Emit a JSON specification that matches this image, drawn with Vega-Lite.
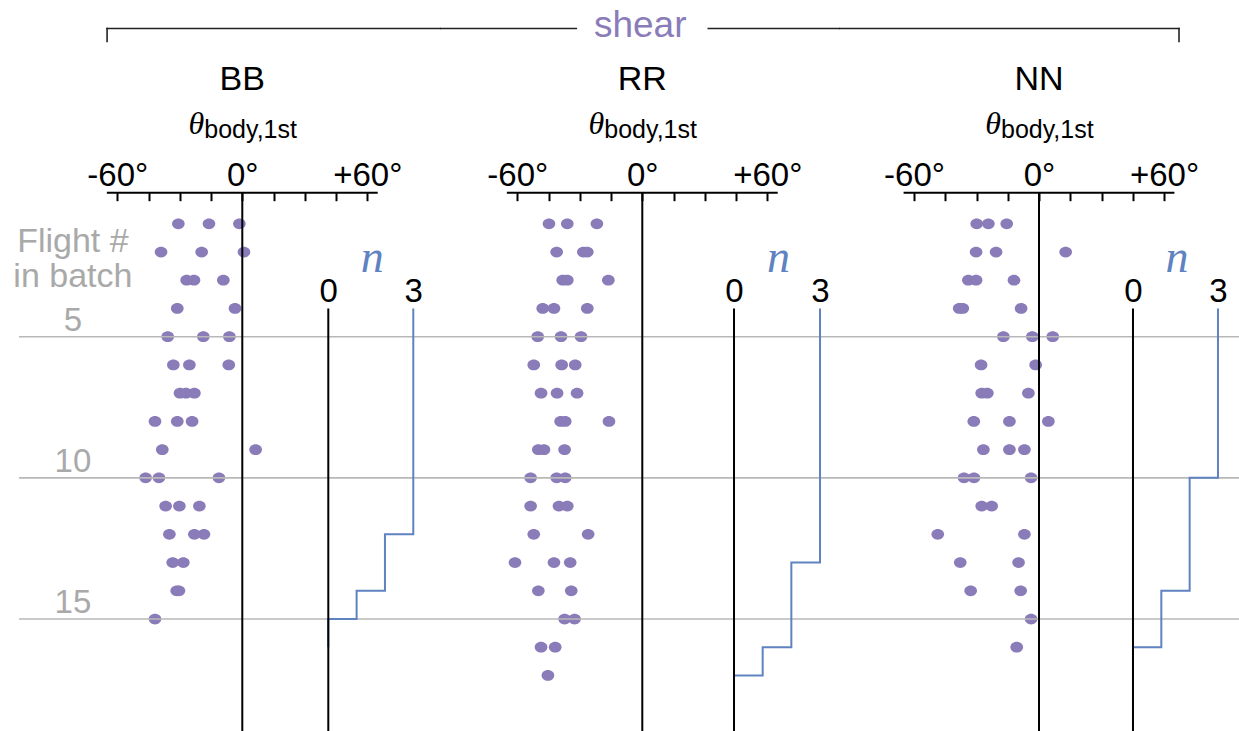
{
  "$schema": "https://vega.github.io/schema/vega-lite/v6.json",
  "padding": 0,
  "autosize": {"type": "pad"},
  "background": "white",
  "spacing": 0,
  "bounds": "flush",
  "config": {"view": {"stroke": null}, "font": "Liberation Sans", "text": {"font": "Liberation Sans"}},
  "datasets": {
    "dots": [
      {"panel": "BB", "flight": 1, "theta": -30.7}, {"panel": "BB", "flight": 1, "theta": -16.0}, {"panel": "BB", "flight": 1, "theta": -1.4},
      {"panel": "BB", "flight": 2, "theta": -39.0}, {"panel": "BB", "flight": 2, "theta": -19.5}, {"panel": "BB", "flight": 2, "theta": 0.8},
      {"panel": "BB", "flight": 3, "theta": -26.7}, {"panel": "BB", "flight": 3, "theta": -23.2}, {"panel": "BB", "flight": 3, "theta": -9.1},
      {"panel": "BB", "flight": 4, "theta": -31.2}, {"panel": "BB", "flight": 4, "theta": -3.5},
      {"panel": "BB", "flight": 5, "theta": -35.8}, {"panel": "BB", "flight": 5, "theta": -18.7}, {"panel": "BB", "flight": 5, "theta": -6.2},
      {"panel": "BB", "flight": 6, "theta": -33.1}, {"panel": "BB", "flight": 6, "theta": -25.4}, {"panel": "BB", "flight": 6, "theta": -6.5},
      {"panel": "BB", "flight": 7, "theta": -29.9}, {"panel": "BB", "flight": 7, "theta": -27.0}, {"panel": "BB", "flight": 7, "theta": -23.0},
      {"panel": "BB", "flight": 8, "theta": -41.9}, {"panel": "BB", "flight": 8, "theta": -31.2}, {"panel": "BB", "flight": 8, "theta": -24.1},
      {"panel": "BB", "flight": 9, "theta": -38.4}, {"panel": "BB", "flight": 9, "theta": 6.4},
      {"panel": "BB", "flight": 10, "theta": -46.4}, {"panel": "BB", "flight": 10, "theta": -40.0}, {"panel": "BB", "flight": 10, "theta": -11.2},
      {"panel": "BB", "flight": 11, "theta": -36.8}, {"panel": "BB", "flight": 11, "theta": -30.2}, {"panel": "BB", "flight": 11, "theta": -20.6},
      {"panel": "BB", "flight": 12, "theta": -35.0}, {"panel": "BB", "flight": 12, "theta": -23.0}, {"panel": "BB", "flight": 12, "theta": -18.4},
      {"panel": "BB", "flight": 13, "theta": -33.4}, {"panel": "BB", "flight": 13, "theta": -28.3},
      {"panel": "BB", "flight": 14, "theta": -31.5}, {"panel": "BB", "flight": 14, "theta": -30.4},
      {"panel": "BB", "flight": 15, "theta": -41.9},
      {"panel": "RR", "flight": 1, "theta": -44.8}, {"panel": "RR", "flight": 1, "theta": -36.0}, {"panel": "RR", "flight": 1, "theta": -21.8},
      {"panel": "RR", "flight": 2, "theta": -41.1}, {"panel": "RR", "flight": 2, "theta": -28.3}, {"panel": "RR", "flight": 2, "theta": -26.4},
      {"panel": "RR", "flight": 3, "theta": -38.2}, {"panel": "RR", "flight": 3, "theta": -36.0}, {"panel": "RR", "flight": 3, "theta": -16.3},
      {"panel": "RR", "flight": 4, "theta": -47.8}, {"panel": "RR", "flight": 4, "theta": -42.4}, {"panel": "RR", "flight": 4, "theta": -26.4},
      {"panel": "RR", "flight": 5, "theta": -50.2}, {"panel": "RR", "flight": 5, "theta": -39.0}, {"panel": "RR", "flight": 5, "theta": -29.4},
      {"panel": "RR", "flight": 6, "theta": -52.1}, {"panel": "RR", "flight": 6, "theta": -38.7}, {"panel": "RR", "flight": 6, "theta": -32.2},
      {"panel": "RR", "flight": 7, "theta": -48.6}, {"panel": "RR", "flight": 7, "theta": -40.9}, {"panel": "RR", "flight": 7, "theta": -31.3},
      {"panel": "RR", "flight": 8, "theta": -39.2}, {"panel": "RR", "flight": 8, "theta": -37.0}, {"panel": "RR", "flight": 8, "theta": -16.0},
      {"panel": "RR", "flight": 9, "theta": -49.9}, {"panel": "RR", "flight": 9, "theta": -47.2}, {"panel": "RR", "flight": 9, "theta": -37.3},
      {"panel": "RR", "flight": 10, "theta": -53.6}, {"panel": "RR", "flight": 10, "theta": -41.1}, {"panel": "RR", "flight": 10, "theta": -37.0},
      {"panel": "RR", "flight": 11, "theta": -53.6}, {"panel": "RR", "flight": 11, "theta": -40.0}, {"panel": "RR", "flight": 11, "theta": -36.0},
      {"panel": "RR", "flight": 12, "theta": -52.1}, {"panel": "RR", "flight": 12, "theta": -26.0},
      {"panel": "RR", "flight": 13, "theta": -61.1}, {"panel": "RR", "flight": 13, "theta": -42.4}, {"panel": "RR", "flight": 13, "theta": -34.6},
      {"panel": "RR", "flight": 14, "theta": -49.9}, {"panel": "RR", "flight": 14, "theta": -34.1},
      {"panel": "RR", "flight": 15, "theta": -37.3}, {"panel": "RR", "flight": 15, "theta": -32.5},
      {"panel": "RR", "flight": 16, "theta": -48.6}, {"panel": "RR", "flight": 16, "theta": -41.8},
      {"panel": "RR", "flight": 17, "theta": -45.3},
      {"panel": "NN", "flight": 1, "theta": -29.9}, {"panel": "NN", "flight": 1, "theta": -24.3}, {"panel": "NN", "flight": 1, "theta": -15.5},
      {"panel": "NN", "flight": 2, "theta": -30.2}, {"panel": "NN", "flight": 2, "theta": -20.6}, {"panel": "NN", "flight": 2, "theta": 12.8},
      {"panel": "NN", "flight": 3, "theta": -33.9}, {"panel": "NN", "flight": 3, "theta": -30.2}, {"panel": "NN", "flight": 3, "theta": -12.0},
      {"panel": "NN", "flight": 4, "theta": -38.3}, {"panel": "NN", "flight": 4, "theta": -36.6}, {"panel": "NN", "flight": 4, "theta": -8.6},
      {"panel": "NN", "flight": 5, "theta": -17.1}, {"panel": "NN", "flight": 5, "theta": -3.2}, {"panel": "NN", "flight": 5, "theta": 6.6},
      {"panel": "NN", "flight": 6, "theta": -27.8}, {"panel": "NN", "flight": 6, "theta": -1.6},
      {"panel": "NN", "flight": 7, "theta": -27.5}, {"panel": "NN", "flight": 7, "theta": -24.8}, {"panel": "NN", "flight": 7, "theta": -5.1},
      {"panel": "NN", "flight": 8, "theta": -31.3}, {"panel": "NN", "flight": 8, "theta": -14.2}, {"panel": "NN", "flight": 8, "theta": 4.5},
      {"panel": "NN", "flight": 9, "theta": -26.7}, {"panel": "NN", "flight": 9, "theta": -14.2}, {"panel": "NN", "flight": 9, "theta": -7.0},
      {"panel": "NN", "flight": 10, "theta": -36.0}, {"panel": "NN", "flight": 10, "theta": -31.2}, {"panel": "NN", "flight": 10, "theta": -3.8},
      {"panel": "NN", "flight": 11, "theta": -27.5}, {"panel": "NN", "flight": 11, "theta": -22.7},
      {"panel": "NN", "flight": 12, "theta": -48.6}, {"panel": "NN", "flight": 12, "theta": -7.0},
      {"panel": "NN", "flight": 13, "theta": -37.8}, {"panel": "NN", "flight": 13, "theta": -9.8},
      {"panel": "NN", "flight": 14, "theta": -32.8}, {"panel": "NN", "flight": 14, "theta": -8.8},
      {"panel": "NN", "flight": 15, "theta": -3.8},
      {"panel": "NN", "flight": 16, "theta": -10.7}
    ],
    "counts": [
      {"panel": "BB", "flight": 1, "n": 3}, {"panel": "BB", "flight": 2, "n": 3}, {"panel": "BB", "flight": 3, "n": 3}, {"panel": "BB", "flight": 4, "n": 3},
      {"panel": "BB", "flight": 5, "n": 3}, {"panel": "BB", "flight": 6, "n": 3}, {"panel": "BB", "flight": 7, "n": 3}, {"panel": "BB", "flight": 8, "n": 3},
      {"panel": "BB", "flight": 9, "n": 3}, {"panel": "BB", "flight": 10, "n": 3}, {"panel": "BB", "flight": 11, "n": 3}, {"panel": "BB", "flight": 12, "n": 3},
      {"panel": "BB", "flight": 13, "n": 2}, {"panel": "BB", "flight": 14, "n": 2}, {"panel": "BB", "flight": 15, "n": 1}, {"panel": "BB", "flight": 16, "n": 0},
      {"panel": "RR", "flight": 1, "n": 3}, {"panel": "RR", "flight": 2, "n": 3}, {"panel": "RR", "flight": 3, "n": 3}, {"panel": "RR", "flight": 4, "n": 3},
      {"panel": "RR", "flight": 5, "n": 3}, {"panel": "RR", "flight": 6, "n": 3}, {"panel": "RR", "flight": 7, "n": 3}, {"panel": "RR", "flight": 8, "n": 3},
      {"panel": "RR", "flight": 9, "n": 3}, {"panel": "RR", "flight": 10, "n": 3}, {"panel": "RR", "flight": 11, "n": 3}, {"panel": "RR", "flight": 12, "n": 3},
      {"panel": "RR", "flight": 13, "n": 3}, {"panel": "RR", "flight": 14, "n": 2}, {"panel": "RR", "flight": 15, "n": 2}, {"panel": "RR", "flight": 16, "n": 2},
      {"panel": "RR", "flight": 17, "n": 1}, {"panel": "RR", "flight": 18, "n": 0},
      {"panel": "NN", "flight": 1, "n": 3}, {"panel": "NN", "flight": 2, "n": 3}, {"panel": "NN", "flight": 3, "n": 3}, {"panel": "NN", "flight": 4, "n": 3},
      {"panel": "NN", "flight": 5, "n": 3}, {"panel": "NN", "flight": 6, "n": 3}, {"panel": "NN", "flight": 7, "n": 3}, {"panel": "NN", "flight": 8, "n": 3},
      {"panel": "NN", "flight": 9, "n": 3}, {"panel": "NN", "flight": 10, "n": 3}, {"panel": "NN", "flight": 11, "n": 2}, {"panel": "NN", "flight": 12, "n": 2},
      {"panel": "NN", "flight": 13, "n": 2}, {"panel": "NN", "flight": 14, "n": 2}, {"panel": "NN", "flight": 15, "n": 1}, {"panel": "NN", "flight": 16, "n": 1},
      {"panel": "NN", "flight": 17, "n": 0}
    ],
    "panels": [{"panel": "BB"}, {"panel": "RR"}, {"panel": "NN"}],
    "grid": [{"flight": 5}, {"flight": 10}, {"flight": 15}]
  },
  "hconcat": [
    {
      "width": 440, "height": 731,
      "resolve": {"scale": {"x": "independent"}, "axis": {"x": "independent"}},
      "layer": [
        {"layer": [
          {"data": {"name": "dots"}, "transform": [{"filter": "datum.panel == 'BB'"}],
           "mark": {"type": "point", "filled": true, "opacity": 1, "shape": "M-1,0A1,0.85,0,1,1,1,0A1,0.85,0,1,1,-1,0Z", "size": 160, "color": "#8a7bb9", "zindex": 2},
           "encoding": {
             "x": {"field": "theta", "type": "quantitative", "scale": {"domain": [-116.3, 94.9], "nice": false, "zero": false},
                   "axis": {"orient": "top", "offset": -192.7, "values": [-60, -45, -30, -15, 0, 15, 30, 45, 60],
                            "labelExpr": "datum.value == -60 ? '-60°' : datum.value == 0 ? '0°' : datum.value == 60 ? '+60°' : ''",
                            "domain": false, "grid": false, "ticks": true, "tickSize": -8, "tickWidth": 2, "tickColor": "#000",
                            "labelPadding": 8, "labelFontSize": 33, "labelColor": "#000", "labelFont": "Liberation Sans", "labelAngle": 0,
                            "labelFlush": false, "labelOverlap": false, "labelBound": false, "title": null}},
             "y": {"field": "flight", "type": "quantitative", "scale": {"domain": [-6.927, 18.967], "reverse": true, "nice": false, "zero": false}, "axis": null}}},
          {"data": {"name": "grid"}, "mark": {"type": "rule", "color": "#b8b8b8", "strokeWidth": 1.6, "zindex": 0},
           "encoding": {"y": {"field": "flight", "type": "quantitative", "axis": null},
                        "x": {"datum": -107.2}, "x2": {"datum": 94.9}}},
          {"data": {"values": [{}]}, "mark": {"type": "rule", "color": "#000", "strokeWidth": 2, "zindex": 1},
           "encoding": {"x": {"datum": 0}, "y": {"datum": -0.101, "axis": null}, "y2": {"datum": 18.967}}},
          {"data": {"values": [{}]}, "mark": {"type": "rule", "color": "#000", "strokeWidth": 2, "zindex": 1},
           "encoding": {"x": {"datum": -65}, "x2": {"datum": 65}, "y": {"datum": -0.101, "axis": null}}},
          {"data": {"name": "grid"}, "mark": {"type": "text", "fontSize": 33, "color": "#a9a9a9", "align": "center", "baseline": "alphabetic", "dy": -6},
           "encoding": {"text": {"field": "flight"}, "x": {"datum": -81.3},
                        "y": {"field": "flight", "type": "quantitative", "axis": null}}},
          {"data": {"values": [{}]}, "mark": {"type": "text", "fontSize": 34, "color": "#a9a9a9", "align": "center", "baseline": "alphabetic", "lineHeight": 35.6},
           "encoding": {"text": {"value": ["Flight #", "in batch"]}, "x": {"datum": -81.3}, "y": {"datum": 1.989, "axis": null}}},
          {"data": {"name": "panels"}, "transform": [{"filter": "datum.panel == 'BB'"}],
           "mark": {"type": "text", "fontSize": 34, "color": "#000", "align": "center", "baseline": "alphabetic"},
           "encoding": {"text": {"field": "panel"}, "x": {"datum": 0}, "y": {"datum": -3.739, "axis": null}}},
          {"data": {"values": [{}]}, "mark": {"type": "text", "fontSize": 32, "font": "Liberation Serif", "fontStyle": "italic", "color": "#000", "align": "right", "baseline": "alphabetic", "dx": -38},
           "encoding": {"text": {"value": "θ"}, "x": {"datum": 0}, "y": {"datum": -2.18, "axis": null}}},
          {"data": {"values": [{}]}, "mark": {"type": "text", "fontSize": 25, "color": "#000", "align": "left", "baseline": "alphabetic", "dx": -38},
           "encoding": {"text": {"value": "body,1st"}, "x": {"datum": 0}, "y": {"datum": -2.049, "axis": null}}},
          {"data": {"values": [{}]}, "mark": {"type": "rule", "color": "#222", "strokeWidth": 1.6, "strokeCap": "square"},
           "encoding": {"x": {"datum": -64.9}, "x2": {"datum": 94.9}, "y": {"datum": -5.917, "axis": null}}},
          {"data": {"values": [{}]}, "mark": {"type": "rule", "color": "#222", "strokeWidth": 1.6, "strokeCap": "square"},
           "encoding": {"x": {"datum": -64.9}, "y": {"datum": -5.917, "axis": null}, "y2": {"datum": -5.456}}}
        ]},
        {"layer": [
          {"data": {"name": "counts"}, "transform": [{"filter": "datum.panel == 'BB' && datum.flight >= 4"}],
           "mark": {"type": "line", "interpolate": "step-after", "color": "#5f83c0", "strokeWidth": 2},
           "encoding": {
             "x": {"field": "n", "type": "quantitative", "scale": {"domain": [-11.588, 3.943], "nice": false, "zero": false},
                   "axis": {"orient": "top", "offset": -308.5, "values": [0, 3], "format": "d", "domain": false, "grid": false, "ticks": false,
                            "labelPadding": 0, "labelFontSize": 33, "labelColor": "#000", "labelFont": "Liberation Sans", "labelAngle": 0,
                            "labelFlush": false, "labelOverlap": false, "labelBound": false, "title": null}},
             "y": {"field": "flight", "type": "quantitative", "scale": {"domain": [-6.927, 18.967], "reverse": true, "nice": false, "zero": false}, "axis": null},
             "order": {"field": "flight"}}},
          {"data": {"values": [{}]}, "mark": {"type": "rule", "color": "#000", "strokeWidth": 2},
           "encoding": {"x": {"datum": 0}, "y": {"datum": 4, "axis": null}, "y2": {"datum": 18.967}}},
          {"data": {"values": [{}]}, "mark": {"type": "text", "fontSize": 46, "font": "Liberation Serif", "fontStyle": "italic", "color": "#5f83c0", "align": "center", "baseline": "alphabetic"},
           "encoding": {"text": {"value": "n"}, "x": {"datum": 1.55}, "y": {"datum": 2.697, "axis": null}}}
        ]}
      ]
    },
    {
      "width": 400, "height": 731,
      "resolve": {"scale": {"x": "independent"}, "axis": {"x": "independent"}},
      "layer": [
        {"layer": [
          {"data": {"name": "dots"}, "transform": [{"filter": "datum.panel == 'RR'"}],
           "mark": {"type": "point", "filled": true, "opacity": 1, "shape": "M-1,0A1,0.85,0,1,1,1,0A1,0.85,0,1,1,-1,0Z", "size": 160, "color": "#8a7bb9", "zindex": 2},
           "encoding": {
             "x": {"field": "theta", "type": "quantitative", "scale": {"domain": [-97.1, 94.9], "nice": false, "zero": false},
                   "axis": {"orient": "top", "offset": -192.7, "values": [-60, -45, -30, -15, 0, 15, 30, 45, 60],
                            "labelExpr": "datum.value == -60 ? '-60°' : datum.value == 0 ? '0°' : datum.value == 60 ? '+60°' : ''",
                            "domain": false, "grid": false, "ticks": true, "tickSize": -8, "tickWidth": 2, "tickColor": "#000",
                            "labelPadding": 8, "labelFontSize": 33, "labelColor": "#000", "labelFont": "Liberation Sans", "labelAngle": 0,
                            "labelFlush": false, "labelOverlap": false, "labelBound": false, "title": null}},
             "y": {"field": "flight", "type": "quantitative", "scale": {"domain": [-6.927, 18.967], "reverse": true, "nice": false, "zero": false}, "axis": null}}},
          {"data": {"name": "grid"}, "mark": {"type": "rule", "color": "#b8b8b8", "strokeWidth": 1.6, "zindex": 0},
           "encoding": {"y": {"field": "flight", "type": "quantitative", "axis": null}}},
          {"data": {"values": [{}]}, "mark": {"type": "rule", "color": "#000", "strokeWidth": 2, "zindex": 1},
           "encoding": {"x": {"datum": 0}, "y": {"datum": -0.101, "axis": null}, "y2": {"datum": 18.967}}},
          {"data": {"values": [{}]}, "mark": {"type": "rule", "color": "#000", "strokeWidth": 2, "zindex": 1},
           "encoding": {"x": {"datum": -65}, "x2": {"datum": 65}, "y": {"datum": -0.101, "axis": null}}},
          {"data": {"name": "panels"}, "transform": [{"filter": "datum.panel == 'RR'"}],
           "mark": {"type": "text", "fontSize": 34, "color": "#000", "align": "center", "baseline": "alphabetic"},
           "encoding": {"text": {"field": "panel"}, "x": {"datum": 0}, "y": {"datum": -3.739, "axis": null}}},
          {"data": {"values": [{}]}, "mark": {"type": "text", "fontSize": 32, "font": "Liberation Serif", "fontStyle": "italic", "color": "#000", "align": "right", "baseline": "alphabetic", "dx": -38},
           "encoding": {"text": {"value": "θ"}, "x": {"datum": 0}, "y": {"datum": -2.18, "axis": null}}},
          {"data": {"values": [{}]}, "mark": {"type": "text", "fontSize": 25, "color": "#000", "align": "left", "baseline": "alphabetic", "dx": -38},
           "encoding": {"text": {"value": "body,1st"}, "x": {"datum": 0}, "y": {"datum": -2.049, "axis": null}}},
          {"data": {"values": [{}]}, "mark": {"type": "rule", "color": "#222", "strokeWidth": 1.6},
           "encoding": {"x": {"datum": -97.1}, "x2": {"datum": -31.3}, "y": {"datum": -5.917, "axis": null}}},
          {"data": {"values": [{}]}, "mark": {"type": "rule", "color": "#222", "strokeWidth": 1.6},
           "encoding": {"x": {"datum": 31.3}, "x2": {"datum": 94.9}, "y": {"datum": -5.917, "axis": null}}},
          {"data": {"values": [{}]}, "mark": {"type": "text", "fontSize": 37, "color": "#8a7bb9", "align": "center", "baseline": "alphabetic"},
           "encoding": {"text": {"value": "shear"}, "x": {"datum": -1}, "y": {"datum": -5.617, "axis": null}}}
        ]},
        {"layer": [
          {"data": {"name": "counts"}, "transform": [{"filter": "datum.panel == 'RR' && datum.flight >= 4"}],
           "mark": {"type": "line", "interpolate": "step-after", "color": "#5f83c0", "strokeWidth": 2},
           "encoding": {
             "x": {"field": "n", "type": "quantitative", "scale": {"domain": [-10.255, 3.697], "nice": false, "zero": false},
                   "axis": {"orient": "top", "offset": -308.5, "values": [0, 3], "format": "d", "domain": false, "grid": false, "ticks": false,
                            "labelPadding": 0, "labelFontSize": 33, "labelColor": "#000", "labelFont": "Liberation Sans", "labelAngle": 0,
                            "labelFlush": false, "labelOverlap": false, "labelBound": false, "title": null}},
             "y": {"field": "flight", "type": "quantitative", "scale": {"domain": [-6.927, 18.967], "reverse": true, "nice": false, "zero": false}, "axis": null},
             "order": {"field": "flight"}}},
          {"data": {"values": [{}]}, "mark": {"type": "rule", "color": "#000", "strokeWidth": 2},
           "encoding": {"x": {"datum": 0}, "y": {"datum": 4, "axis": null}, "y2": {"datum": 18.967}}},
          {"data": {"values": [{}]}, "mark": {"type": "text", "fontSize": 46, "font": "Liberation Serif", "fontStyle": "italic", "color": "#5f83c0", "align": "center", "baseline": "alphabetic"},
           "encoding": {"text": {"value": "n"}, "x": {"datum": 1.55}, "y": {"datum": 2.697, "axis": null}}}
        ]}
      ]
    },
    {
      "width": 399, "height": 731,
      "resolve": {"scale": {"x": "independent"}, "axis": {"x": "independent"}},
      "layer": [
        {"layer": [
          {"data": {"name": "dots"}, "transform": [{"filter": "datum.panel == 'NN'"}],
           "mark": {"type": "point", "filled": true, "opacity": 1, "shape": "M-1,0A1,0.85,0,1,1,1,0A1,0.85,0,1,1,-1,0Z", "size": 160, "color": "#8a7bb9", "zindex": 2},
           "encoding": {
             "x": {"field": "theta", "type": "quantitative", "scale": {"domain": [-95.52, 96.0], "nice": false, "zero": false},
                   "axis": {"orient": "top", "offset": -192.7, "values": [-60, -45, -30, -15, 0, 15, 30, 45, 60],
                            "labelExpr": "datum.value == -60 ? '-60°' : datum.value == 0 ? '0°' : datum.value == 60 ? '+60°' : ''",
                            "domain": false, "grid": false, "ticks": true, "tickSize": -8, "tickWidth": 2, "tickColor": "#000",
                            "labelPadding": 8, "labelFontSize": 33, "labelColor": "#000", "labelFont": "Liberation Sans", "labelAngle": 0,
                            "labelFlush": false, "labelOverlap": false, "labelBound": false, "title": null}},
             "y": {"field": "flight", "type": "quantitative", "scale": {"domain": [-6.927, 18.967], "reverse": true, "nice": false, "zero": false}, "axis": null}}},
          {"data": {"name": "grid"}, "mark": {"type": "rule", "color": "#b8b8b8", "strokeWidth": 1.6, "zindex": 0},
           "encoding": {"y": {"field": "flight", "type": "quantitative", "axis": null}}},
          {"data": {"values": [{}]}, "mark": {"type": "rule", "color": "#000", "strokeWidth": 2, "zindex": 1},
           "encoding": {"x": {"datum": 0}, "y": {"datum": -0.101, "axis": null}, "y2": {"datum": 18.967}}},
          {"data": {"values": [{}]}, "mark": {"type": "rule", "color": "#000", "strokeWidth": 2, "zindex": 1},
           "encoding": {"x": {"datum": -65}, "x2": {"datum": 65}, "y": {"datum": -0.101, "axis": null}}},
          {"data": {"name": "panels"}, "transform": [{"filter": "datum.panel == 'NN'"}],
           "mark": {"type": "text", "fontSize": 34, "color": "#000", "align": "center", "baseline": "alphabetic"},
           "encoding": {"text": {"field": "panel"}, "x": {"datum": 0}, "y": {"datum": -3.739, "axis": null}}},
          {"data": {"values": [{}]}, "mark": {"type": "text", "fontSize": 32, "font": "Liberation Serif", "fontStyle": "italic", "color": "#000", "align": "right", "baseline": "alphabetic", "dx": -38},
           "encoding": {"text": {"value": "θ"}, "x": {"datum": 0}, "y": {"datum": -2.18, "axis": null}}},
          {"data": {"values": [{}]}, "mark": {"type": "text", "fontSize": 25, "color": "#000", "align": "left", "baseline": "alphabetic", "dx": -38},
           "encoding": {"text": {"value": "body,1st"}, "x": {"datum": 0}, "y": {"datum": -2.049, "axis": null}}},
          {"data": {"values": [{}]}, "mark": {"type": "rule", "color": "#222", "strokeWidth": 1.6, "strokeCap": "square"},
           "encoding": {"x": {"datum": -95.52}, "x2": {"datum": 67.2}, "y": {"datum": -5.917, "axis": null}}},
          {"data": {"values": [{}]}, "mark": {"type": "rule", "color": "#222", "strokeWidth": 1.6, "strokeCap": "square"},
           "encoding": {"x": {"datum": 67.2}, "y": {"datum": -5.917, "axis": null}, "y2": {"datum": -5.456}}}
        ]},
        {"layer": [
          {"data": {"name": "counts"}, "transform": [{"filter": "datum.panel == 'NN' && datum.flight >= 4"}],
           "mark": {"type": "line", "interpolate": "step-after", "color": "#5f83c0", "strokeWidth": 2},
           "encoding": {
             "x": {"field": "n", "type": "quantitative", "scale": {"domain": [-10.342, 3.742], "nice": false, "zero": false},
                   "axis": {"orient": "top", "offset": -308.5, "values": [0, 3], "format": "d", "domain": false, "grid": false, "ticks": false,
                            "labelPadding": 0, "labelFontSize": 33, "labelColor": "#000", "labelFont": "Liberation Sans", "labelAngle": 0,
                            "labelFlush": false, "labelOverlap": false, "labelBound": false, "title": null}},
             "y": {"field": "flight", "type": "quantitative", "scale": {"domain": [-6.927, 18.967], "reverse": true, "nice": false, "zero": false}, "axis": null},
             "order": {"field": "flight"}}},
          {"data": {"values": [{}]}, "mark": {"type": "rule", "color": "#000", "strokeWidth": 2},
           "encoding": {"x": {"datum": 0}, "y": {"datum": 4, "axis": null}, "y2": {"datum": 18.967}}},
          {"data": {"values": [{}]}, "mark": {"type": "text", "fontSize": 46, "font": "Liberation Serif", "fontStyle": "italic", "color": "#5f83c0", "align": "center", "baseline": "alphabetic"},
           "encoding": {"text": {"value": "n"}, "x": {"datum": 1.55}, "y": {"datum": 2.697, "axis": null}}}
        ]}
      ]
    }
  ]
}
